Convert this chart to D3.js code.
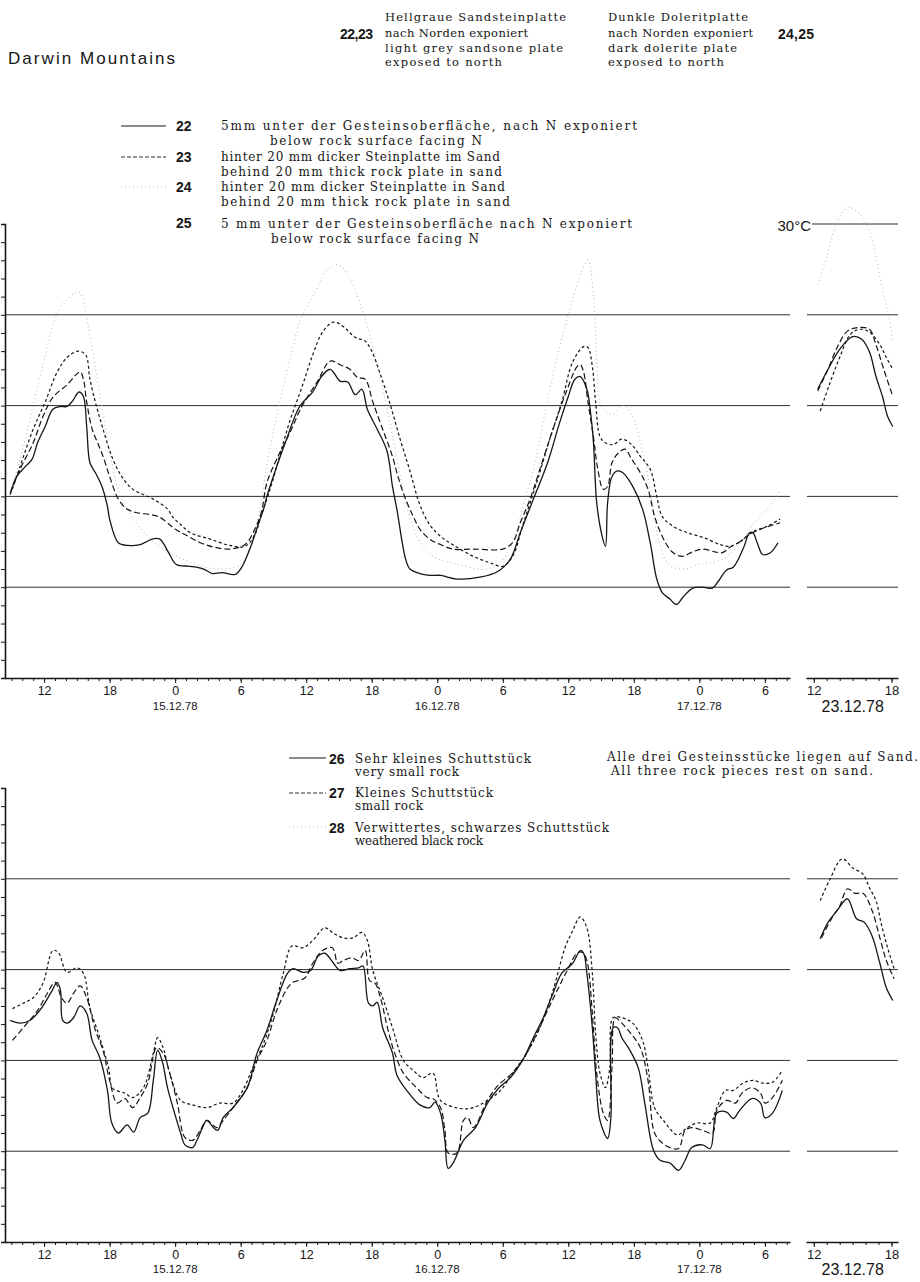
<!DOCTYPE html>
<html><head><meta charset="utf-8">
<script src="https://cdn.jsdelivr.net/npm/d3@7"></script>
<style>body{margin:0;background:#fff}svg{display:block}</style>
</head><body><svg id="c" width="920" height="1282"></svg>
<script>
// ---------- DATA (hours since 14.12.78 00:00, temperature °C) ----------
const hourTicks = [12,18,24,30,36,42,48,54,60,66,72,78];
const hourTickLabels = ["12","18","0","6","12","18","0","6","12","18","0","6"];
const dateHours = [24,48,72];
const dateLabels = ["15.12.78","16.12.78","17.12.78"];
const rightTicks = [12,18];
const rightTickLabels = ["12","18"];
const rightDate = "23.12.78";
const gridMain = [20,10,0,-10];
const gridTopRight = [30,20,10,0,-10];
const gridBotRight = [20,10,0,-10];

// Top chart, 14.-17.12.78
const s22 = [[8.9,0.2],[9.5,2.2],[10.3,3.3],[10.9,4.1],[11.4,5.9],[12.1,7.7],[12.8,9.6],[13.5,9.9],[14.1,9.9],[14.6,10.5],[15.2,11.5],[15.6,11.0],[15.9,7.7],[16.2,3.7],[16.7,2.6],[17.3,1.1],[17.8,-1.1],[18.0,-2.5],[18.8,-5.1],[19.7,-5.4],[20.8,-5.3],[21.9,-4.7],[22.6,-4.7],[23.4,-6.2],[24.1,-7.5],[25.4,-7.7],[26.6,-8.0],[27.4,-8.5],[28.3,-8.4],[29.5,-8.6],[30.1,-7.8],[30.9,-5.6],[31.6,-3.1],[32.1,-1.4],[32.4,0],[33.3,3.3],[34.2,6.3],[35.4,9.9],[36.6,11.5],[37.4,13.2],[38.2,14.0],[39.1,12.7],[39.8,12.6],[40.5,11.2],[41.1,11.8],[41.6,9.6],[42.5,7.4],[43.4,5.0],[43.9,1.1],[44.3,-1.4],[45.1,-6.9],[45.5,-8.0],[46.4,-8.5],[47.3,-8.7],[48.3,-8.7],[49.8,-9.1],[51.9,-8.9],[53.5,-8.3],[54.7,-6.9],[55.6,-4.0],[56.8,-0.3],[58.1,3.7],[59.2,8.1],[60.0,11.0],[60.6,12.9],[61.1,13.2],[61.7,11.8],[62.0,9.6],[62.3,6.0],[62.6,-0.7],[63.1,-4.4],[63.4,-5.5],[63.6,-0.7],[64.0,2.2],[64.5,2.8],[65.0,2.6],[65.9,1.1],[66.8,-1.4],[67.5,-5.1],[68.1,-9.1],[68.6,-10.6],[69.3,-11.3],[69.9,-11.9],[70.5,-11.1],[71.4,-10.1],[72.3,-10.0],[73.2,-10.1],[73.7,-9.4],[74.5,-8.1],[75.1,-7.8],[76.0,-5.8],[76.6,-4.0],[76.9,-4.0],[77.3,-5.1],[77.8,-6.4],[78.5,-6.2],[79.2,-5.1]];
const s23 = [[8.9,0.4],[9.8,3.0],[11.0,5.9],[11.9,8.8],[12.8,10.9],[14.1,12.3],[15.3,13.7],[15.6,12.9],[15.9,10.4],[16.4,7.4],[16.9,5.9],[17.4,4.4],[18.0,2.2],[18.8,-0.3],[19.6,-1.4],[20.5,-1.8],[21.7,-2.0],[22.6,-2.3],[24.0,-3.6],[24.9,-4.2],[26.3,-5.1],[27.6,-5.6],[29.0,-5.8],[30.4,-5.3],[31.3,-3.6],[31.9,-1.7],[32.4,1.5],[33.3,4.1],[34.5,7.0],[35.6,9.9],[37.0,12.6],[38.2,14.9],[39.1,14.5],[40.0,14.0],[40.7,13.1],[41.4,12.9],[42.1,10.4],[43.0,7.4],[43.9,4.4],[44.4,2.2],[45.1,-0.3],[45.8,-2.2],[46.4,-3.6],[47.3,-4.7],[48.3,-5.3],[49.4,-5.8],[51.3,-5.8],[54.0,-5.8],[54.9,-5.1],[55.6,-2.9],[56.5,-0.3],[57.4,3.0],[58.6,7.4],[59.9,11.8],[60.8,14.3],[61.1,14.5],[61.4,13.7],[61.8,10.4],[62.3,6.6],[62.7,3.0],[63.2,0.8],[63.6,1.1],[64.0,3.7],[64.6,4.8],[65.2,5.2],[65.8,4.1],[66.6,2.6],[67.3,0.8],[67.9,-2.2],[68.6,-4.4],[69.5,-6.1],[70.4,-6.6],[71.4,-6.1],[72.3,-5.8],[73.4,-6.1],[74.1,-6.2],[74.8,-5.6],[75.7,-5.0],[76.6,-4.2],[77.6,-3.6],[79.4,-2.9]];
const s24 = [[8.9,0.5],[10.0,5.0],[11.0,10.0],[12.0,15.0],[13.0,19.5],[14.0,21.5],[15.2,22.5],[16.0,19.0],[17.0,12.0],[18.0,5.0],[19.0,0],[20.5,-3.0],[22.0,-5.0],[24.0,-6.5],[26.0,-7.5],[28.0,-8.0],[30.0,-7.5],[31.0,-5.0],[31.8,-1.0],[32.2,2.0],[32.8,6.0],[33.5,10.0],[34.5,15.0],[35.5,19.5],[36.6,22.0],[38.0,25.0],[39.0,25.5],[40.0,24.0],[41.0,21.0],[42.0,17.0],[43.0,12.0],[44.0,6.0],[45.0,0],[46.0,-4.0],[47.5,-6.5],[50.0,-7.5],[52.5,-8.0],[54.0,-7.0],[55.2,-4.0],[56.0,-0.5],[57.0,4.0],[58.0,10.0],[59.0,15.5],[60.0,20.0],[61.0,24.0],[61.8,26.0],[62.3,22.0],[62.6,15.0],[63.0,10.0],[64.0,9.0],[65.0,10.0],[65.8,9.0],[66.8,5.0],[67.6,0],[68.3,-5.0],[69.2,-7.5],[70.5,-8.0],[72.0,-7.5],[74.0,-7.0],[75.5,-5.5],[77.0,-3.0],[78.5,-1.0],[79.3,0.5]];
const s25 = [[9.1,0.8],[9.8,3.3],[11.0,7.4],[12.1,10.4],[13.2,13.7],[14.1,15.3],[15.1,16.0],[15.8,15.6],[16.2,12.9],[16.8,9.9],[17.4,7.4],[18.2,4.4],[19.1,2.2],[20.1,0.8],[21.1,0.2],[22.0,-0.3],[23.3,-1.4],[23.8,-2.3],[24.5,-3.1],[25.4,-4.0],[27.2,-4.7],[29.0,-5.4],[30.4,-5.5],[31.3,-4.2],[31.9,-2.0],[32.7,0.8],[33.6,4.6],[34.5,8.3],[35.6,12.0],[36.6,15.6],[37.5,18.1],[38.5,19.2],[39.4,18.7],[40.5,17.5],[41.4,17.1],[42.0,16.0],[42.8,13.4],[43.7,10.1],[44.6,6.3],[45.5,2.8],[46.4,-0.9],[47.3,-3.1],[48.3,-4.4],[49.4,-5.3],[51.3,-6.6],[52.8,-7.3],[54.0,-7.7],[54.9,-6.6],[55.9,-2.9],[57.1,1.5],[58.3,6.3],[59.4,10.4],[60.4,14.8],[61.4,16.5],[61.8,16.4],[62.2,14.3],[62.5,10.4],[62.9,6.6],[63.4,5.9],[64.1,5.7],[64.9,6.3],[65.8,5.7],[66.6,4.4],[67.5,3.0],[68.1,0],[68.6,-2.2],[69.6,-3.3],[70.9,-4.0],[72.3,-4.5],[73.9,-5.3],[74.8,-5.5],[75.7,-5.0],[76.9,-3.9],[78.2,-3.3],[79.4,-2.5]];
// Top chart, 23.12.78 (hour of day)
const s22r = [[12.3,11.8],[13.1,14.0],[14.0,16.2],[15.0,17.6],[15.7,17.3],[16.3,15.9],[16.8,13.2],[17.3,11.0],[17.7,8.8],[18.1,7.7]];
const s23r = [[12.3,11.6],[13.1,14.0],[13.8,16.4],[14.6,18.2],[15.4,18.6],[16.3,18.4],[16.8,16.7],[17.4,14.0],[18.1,11.0]];
const s24r = [[12.3,23.3],[13.0,26.4],[13.8,30.2],[14.6,31.8],[15.4,31.3],[16.2,29.7],[16.8,26.4],[17.3,22.8],[17.8,19.8],[18.1,17.0]];
const s25r = [[12.5,9.4],[13.2,12.3],[14.0,15.3],[14.8,17.8],[15.5,18.4],[16.3,18.1],[17.1,16.7],[17.6,15.3],[18.1,14.0]];

// Bottom chart, 14.-17.12.78
const s26 = [[8.9,4.4],[9.8,4.1],[10.7,4.4],[11.6,5.5],[12.6,7.4],[13.2,8.6],[13.5,7.7],[13.7,4.4],[14.1,4.1],[14.7,4.7],[15.3,6.0],[15.9,5.2],[16.4,2.2],[17.1,0.3],[17.8,-3.3],[18.2,-6.9],[18.8,-8.0],[19.6,-7.1],[20.2,-7.9],[20.8,-6.3],[21.5,-5.8],[22.0,-2.2],[22.4,1.1],[22.8,0],[23.3,-3.0],[23.8,-5.2],[24.5,-8.0],[24.9,-9.3],[25.6,-9.6],[26.0,-8.8],[26.5,-7.4],[26.9,-6.6],[27.5,-7.4],[27.9,-7.7],[28.4,-6.3],[29.3,-5.2],[30.6,-3.0],[31.5,0.8],[32.4,3.3],[33.3,6.6],[34.3,9.6],[34.8,10.1],[35.7,9.7],[36.4,9.9],[37.1,11.5],[37.7,11.8],[38.5,10.7],[39.1,9.9],[40.0,10.1],[40.8,10.2],[41.2,10.4],[41.7,6.3],[42.1,6.0],[42.5,6.4],[43.0,3.6],[43.9,0.8],[44.3,-1.6],[45.2,-3.3],[46.4,-4.9],[47.3,-5.2],[47.8,-4.6],[48.3,-5.8],[48.7,-8.8],[49.0,-11.9],[49.5,-11.2],[50.4,-8.8],[51.5,-7.4],[52.6,-4.7],[53.6,-3.1],[54.7,-1.9],[55.8,0],[56.8,2.5],[57.7,4.7],[58.6,7.4],[59.4,9.6],[60.4,10.7],[61.1,12.1],[61.4,11.8],[61.7,9.6],[62.2,3.6],[62.5,-1.4],[62.9,-6.6],[63.6,-8.6],[63.9,-6.3],[64.1,3.6],[64.5,3.6],[64.9,2.5],[65.5,1.4],[66.4,-0.8],[67.0,-4.7],[67.8,-9.9],[68.4,-11.0],[69.3,-11.3],[70.1,-12.1],[70.7,-11.0],[71.3,-9.6],[72.3,-9.3],[73.0,-9.7],[73.6,-5.8],[74.5,-5.7],[75.1,-6.4],[75.7,-5.5],[76.8,-4.2],[77.6,-4.7],[78.0,-6.3],[78.7,-5.8],[79.6,-3.3]];
const s27 = [[9.1,2.2],[10.1,3.6],[11.4,5.5],[12.3,7.4],[13.0,8.6],[13.6,6.9],[14.1,6.3],[14.7,7.4],[15.3,8.2],[15.9,6.9],[16.7,3.3],[17.4,1.1],[18.0,-2.2],[18.7,-4.7],[19.4,-4.2],[20.1,-5.2],[20.8,-4.1],[21.5,-2.5],[22.3,1.4],[22.9,0.8],[23.5,-1.4],[24.2,-4.7],[24.9,-8.5],[25.6,-8.8],[26.3,-7.7],[26.9,-6.6],[27.8,-7.4],[28.4,-6.6],[29.3,-5.2],[30.6,-3.0],[31.5,0],[32.4,2.2],[33.3,5.5],[34.3,8.0],[34.8,8.6],[35.9,9.1],[36.6,10.7],[37.5,12.1],[38.4,12.4],[38.9,10.7],[39.4,11.0],[40.2,11.3],[40.8,11.0],[41.4,12.1],[41.8,8.8],[42.3,8.5],[42.8,6.9],[43.5,3.3],[44.1,0.8],[44.9,-1.4],[46.1,-3.0],[47.1,-4.1],[47.6,-4.2],[48.3,-5.2],[48.7,-7.7],[49.0,-10.2],[49.8,-10.2],[50.4,-6.6],[50.8,-6.3],[51.3,-7.4],[52.6,-4.4],[53.6,-2.7],[54.7,-1.6],[55.8,0],[56.8,2.2],[58.1,5.5],[59.1,8.0],[59.9,9.9],[60.8,11.8],[61.3,11.9],[61.7,11.0],[62.2,5.2],[62.6,-1.4],[63.2,-5.8],[63.6,-6.6],[64.0,-0.8],[64.3,4.7],[64.9,4.1],[65.7,3.0],[66.6,1.4],[67.3,-2.2],[67.9,-8.0],[68.6,-9.1],[69.3,-9.6],[70.1,-9.7],[70.7,-7.7],[71.3,-7.4],[72.3,-7.7],[73.2,-8.0],[73.6,-5.5],[74.5,-4.4],[75.3,-4.7],[75.9,-3.6],[76.8,-3.0],[77.6,-3.6],[78.0,-4.7],[78.7,-4.1],[79.6,-2.2]];
const s28 = [[9.1,5.7],[10.1,6.3],[11.0,6.9],[11.9,8.5],[12.8,12.1],[13.3,11.9],[14.1,9.7],[15.0,10.2],[15.6,9.6],[16.2,5.8],[17.1,2.5],[17.9,-0.8],[18.3,-3.1],[19.4,-3.6],[20.1,-4.1],[21.1,-3.0],[22.0,0.8],[22.4,2.5],[22.9,1.4],[23.5,-1.4],[24.5,-4.4],[25.6,-4.9],[26.9,-5.2],[28.1,-4.7],[29.3,-4.7],[30.2,-3.3],[31.1,-0.8],[32.1,1.9],[33.0,5.2],[33.9,9.6],[34.7,12.6],[35.7,12.4],[36.6,13.2],[37.7,14.6],[38.5,14.0],[39.4,13.5],[40.3,13.5],[41.1,14.1],[41.6,13.2],[42.1,9.9],[43.0,6.9],[43.9,3.6],[44.9,0],[45.8,-1.1],[46.7,-1.9],[47.6,-1.4],[48.3,-4.4],[50.1,-5.3],[51.3,-5.2],[52.6,-4.4],[53.8,-3.3],[54.9,-1.4],[56.2,0.8],[57.4,3.6],[58.6,7.7],[59.7,12.4],[60.4,14.3],[61.1,15.8],[61.7,14.6],[62.2,9.6],[62.5,3.0],[62.9,-1.4],[63.4,-3.0],[63.8,-0.8],[64.1,4.7],[64.9,4.7],[65.9,4.1],[66.8,2.2],[67.3,-0.8],[67.9,-5.2],[68.7,-6.6],[70.0,-8.2],[70.9,-7.4],[71.8,-6.9],[73.0,-6.9],[73.6,-5.2],[74.4,-3.3],[75.1,-3.3],[76.0,-2.5],[76.9,-2.2],[77.8,-2.5],[78.7,-2.4],[79.6,-1.1]];
// Bottom chart, 23.12.78
const s26r = [[12.5,13.4],[13.1,15.2],[13.8,16.5],[14.6,17.8],[15.3,15.6],[15.9,15.2],[16.5,13.7],[17.1,10.7],[17.6,8.0],[18.1,6.6]];
const s27r = [[12.6,13.5],[13.4,15.7],[14.0,17.0],[14.6,18.9],[15.2,18.4],[15.8,18.4],[16.5,16.5],[17.1,13.5],[17.6,11.0],[18.2,9.0]];
const s28r = [[12.5,17.6],[13.2,19.8],[14.2,22.2],[15.0,21.2],[15.8,20.5],[16.3,19.0],[16.8,17.6],[17.2,15.1],[17.7,12.4],[18.2,10.1]];

// ---------- DRAWING ----------
const svg = d3.select("#c");
const SANS = "'Liberation Sans', Arial, sans-serif";
const SERIF = "'DejaVu Serif', 'Liberation Serif', serif";
const INK = "#161616";

const xMain = d3.scaleLinear().domain([8.42, 80.3]).range([5, 790]);
const xRight = d3.scaleLinear().domain([11.4, 18.5]).range([806, 898]);
const yTop = d3.scaleLinear().domain([-20, 30]).range([678, 224]);
const yBot = d3.scaleLinear().domain([-20, 30]).range([1242, 788]);

const STY = {
  solid: {dash: null, w: 1.3, c: INK},
  long: {dash: "6,3", w: 1.2, c: INK},
  short: {dash: "3,2.5", w: 1.2, c: INK},
  dot: {dash: "1,3", w: 0.9, c: "#ababab"}
};

function text(x, y, s, o = {}) {
  const t = svg.append("text").attr("x", x).attr("y", y).text(s)
    .attr("font-family", o.ff || SANS).attr("font-size", o.fs || 12)
    .attr("fill", INK).attr("text-anchor", o.anchor || "start");
  if (o.fw) t.attr("font-weight", o.fw);
  if (o.len) t.attr("textLength", o.len).attr("lengthAdjust", o.adj || "spacing");
  return t;
}

function drawPanel(ys, gridR, mainSeries, rightSeries, dateY) {
  const g = svg.append("g");
  const y0 = ys(-20);
  g.selectAll(".gm").data(gridMain).join("line")
    .attr("x1", 5).attr("x2", 790).attr("y1", d => ys(d)).attr("y2", d => ys(d))
    .attr("stroke", INK).attr("stroke-width", 0.9);
  g.selectAll(".gr").data(gridR).join("line")
    .attr("x1", d => d === 30 ? 812 : 807).attr("x2", 898).attr("y1", d => ys(d)).attr("y2", d => ys(d))
    .attr("stroke", INK).attr("stroke-width", 0.9);
  const ya = g.append("g").attr("transform", "translate(5,0)")
    .call(d3.axisLeft(ys).tickValues(d3.range(-20, 31, 2)).tickSize(4).tickFormat(""));
  ya.select(".domain").attr("stroke-width", 1.6).attr("stroke", INK);
  ya.selectAll(".tick line").attr("stroke", INK);
  const minor = g.append("g").attr("transform", `translate(0,${y0})`)
    .call(d3.axisBottom(xMain).tickValues(d3.range(9, 81)).tickSize(3).tickSizeOuter(0).tickFormat(""));
  minor.select(".domain").attr("stroke-width", 1.6).attr("stroke", INK);
  minor.selectAll(".tick line").attr("stroke", INK);
  const major = g.append("g").attr("transform", `translate(0,${y0})`)
    .call(d3.axisBottom(xMain).tickValues(hourTicks).tickSize(5).tickPadding(3)
      .tickFormat((d, i) => hourTickLabels[i]));
  major.select(".domain").remove();
  major.selectAll(".tick line").attr("stroke", INK);
  major.selectAll("text").attr("font-family", SANS).attr("font-size", 12.5).attr("fill", INK);
  const rminor = g.append("g").attr("transform", `translate(0,${y0})`)
    .call(d3.axisBottom(xRight).tickValues(d3.range(12, 19)).tickSize(3).tickSizeOuter(0).tickFormat(""));
  rminor.select(".domain").attr("stroke-width", 1.6).attr("stroke", INK);
  rminor.selectAll(".tick line").attr("stroke", INK);
  const rmajor = g.append("g").attr("transform", `translate(0,${y0})`)
    .call(d3.axisBottom(xRight).tickValues(rightTicks).tickSize(5).tickPadding(3)
      .tickFormat((d, i) => rightTickLabels[i]));
  rmajor.select(".domain").remove();
  rmajor.selectAll(".tick line").attr("stroke", INK);
  rmajor.selectAll("text").attr("font-family", SANS).attr("font-size", 13).attr("fill", INK);
  dateHours.forEach((h, i) => text(xMain(h), dateY, dateLabels[i], {fs: 11.5, anchor: "middle"}));
  text(xRight(15), dateY + 2, rightDate, {fs: 16, anchor: "middle"});
  const mk = xs => d3.line().x(d => xs(d[0])).y(d => ys(d[1])).curve(d3.curveCatmullRom.alpha(0.5));
  const draw = (xs) => ([data, st]) => {
    const s = STY[st];
    g.append("path").attr("d", mk(xs)(data)).attr("fill", "none")
      .attr("stroke", s.c).attr("stroke-width", s.w).attr("stroke-dasharray", s.dash)
      .attr("stroke-linejoin", "round");
  };
  mainSeries.forEach(draw(xMain));
  rightSeries.forEach(draw(xRight));
}

drawPanel(yTop, gridTopRight,
  [[s24, "dot"], [s25, "short"], [s23, "long"], [s22, "solid"]],
  [[s24r, "dot"], [s25r, "short"], [s23r, "long"], [s22r, "solid"]], 710);
drawPanel(yBot, gridBotRight,
  [[s28, "short"], [s27, "long"], [s26, "solid"]],
  [[s28r, "short"], [s27r, "long"], [s26r, "solid"]], 1273);

text(811, 231, "30°C", {fs: 15, anchor: "end"});

// ---------- HEADER ----------
text(8, 64, "Darwin  Mountains", {fs: 17, len: 167});
text(340, 39, "22,23", {fs: 14, fw: "bold", len: 33});
text(778, 39, "24,25", {fs: 14, fw: "bold", len: 36});
const hdrL = ["Hellgraue Sandsteinplatte", "nach Norden exponiert", "light grey sandsone plate", "exposed to north"];
const hdrLw = [181, 143, 178, 117];
const hdrR = ["Dunkle Doleritplatte", "nach Norden exponiert", "dark dolerite plate", "exposed to north"];
const hdrRw = [140, 145, 129, 116];
const hdrY = [21, 37, 52, 66];
hdrL.forEach((s, i) => text(385, hdrY[i], s, {ff: SERIF, fs: 11.5, len: hdrLw[i]}));
hdrR.forEach((s, i) => text(608, hdrY[i], s, {ff: SERIF, fs: 11.5, len: hdrRw[i]}));

// ---------- LEGEND TOP ----------
const legTopNums = ["22", "23", "24", "25"];
const legTopNumY = [131, 162, 192, 228];
const legTopLines = [
  ["5mm unter der Gesteinsoberfläche, nach N exponiert", 221, 130, 416],
  ["below rock surface  facing N", 270, 145, 212],
  ["hinter 20 mm dicker Steinplatte im Sand", 221, 161, 279],
  ["behind 20 mm thick rock plate in sand", 221, 176, 281],
  ["hinter 20 mm dicker Steinplatte in Sand", 221, 191, 284],
  ["behind 20 mm thick rock plate  in sand", 221, 206, 289],
  ["5 mm unter der Gesteinsoberfläche  nach N exponiert", 221, 228, 411],
  ["below rock surface facing N", 271, 243, 208]
];
legTopNums.forEach((n, i) => text(176, legTopNumY[i], n, {fs: 14, fw: "bold"}));
legTopLines.forEach(([s, x, y, w]) => text(x, y, s, {ff: SERIF, fs: 12, len: w}));
const legTopSamples = [["solid", 126], ["long", 157], ["dot", 187]];
legTopSamples.forEach(([st, y]) => {
  const s = STY[st];
  svg.append("line").attr("x1", 121).attr("x2", 166).attr("y1", y).attr("y2", y)
    .attr("stroke", s.c).attr("stroke-width", st === "solid" ? 1 : 0.9)
    .attr("stroke-dasharray", st === "long" ? "4,2" : s.dash);
});

// ---------- LEGEND BOTTOM ----------
const legBotNums = ["26", "27", "28"];
const legBotNumY = [764, 798, 833];
const legBotLines = [
  ["Sehr kleines Schuttstück", 355, 763, 176],
  ["very small rock", 355, 776, 104],
  ["Kleines Schuttstück", 355, 797, 138],
  ["small rock", 355, 810, 68],
  ["Verwittertes, schwarzes Schuttstück", 355, 832, 254],
  ["weathered black rock", 355, 845, 128],
  ["Alle drei Gesteinsstücke liegen auf Sand.", 607, 761, 311],
  ["All three rock pieces rest on sand.", 611, 775, 262]
];
legBotNums.forEach((n, i) => text(329, legBotNumY[i], n, {fs: 14, fw: "bold"}));
legBotLines.forEach(([s, x, y, w]) => text(x, y, s, {ff: SERIF, fs: 12, len: w}));
const legBotSamples = [["solid", 758], ["long", 793], ["dot", 827]];
legBotSamples.forEach(([st, y]) => {
  const s = STY[st];
  svg.append("line").attr("x1", 289).attr("x2", 326).attr("y1", y).attr("y2", y)
    .attr("stroke", s.c).attr("stroke-width", st === "solid" ? 1 : 0.9)
    .attr("stroke-dasharray", st === "long" ? "4,2" : s.dash);
});
</script>
</body></html>
